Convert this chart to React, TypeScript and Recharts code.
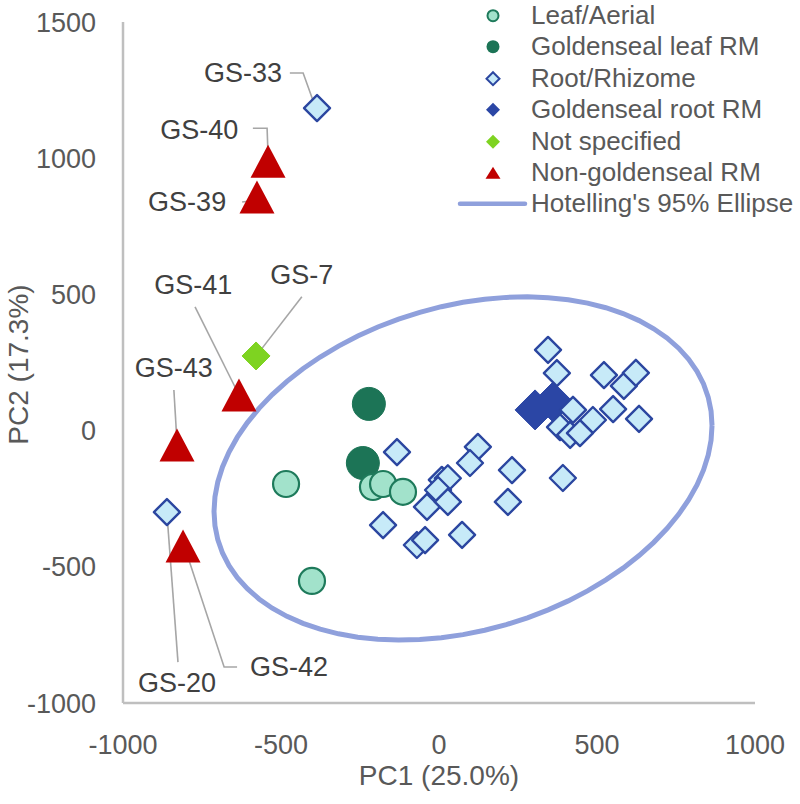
import React from 'react';
import { ScatterChart, Scatter, XAxis, YAxis, Legend } from 'recharts';

const FONT = '"Liberation Sans", Arial, sans-serif';

const xTicks = [-1000, -500, 0, 500, 1000];
const yTicks = [-1000, -500, 0, 500, 1000, 1500];

const leafAerial = [
  { x: -484, y: -196 },
  { x: -402, y: -552 },
  { x: -209, y: -207 },
  { x: -177, y: -196 },
  { x: -114, y: -225 },
];

const goldensealLeafRM = [
  { x: -222, y: 98 },
  { x: -241, y: -119 },
];

const rootRhizome = [
  { x: -386, y: 1184 },
  { x: -861, y: -299 },
  { x: -133, y: -79 },
  { x: 123, y: -60 },
  { x: 98, y: -119 },
  { x: 9, y: -181 },
  { x: 28, y: -175 },
  { x: -3, y: -218 },
  { x: -38, y: -280 },
  { x: 28, y: -262 },
  { x: -70, y: -420 },
  { x: -44, y: -402 },
  { x: 73, y: -383 },
  { x: -177, y: -347 },
  { x: 231, y: -145 },
  { x: 218, y: -262 },
  { x: 345, y: 296 },
  { x: 373, y: 211 },
  { x: 522, y: 204 },
  { x: 585, y: 164 },
  { x: 623, y: 212 },
  { x: 551, y: 79 },
  { x: 633, y: 43 },
  { x: 424, y: 76 },
  { x: 487, y: 39 },
  { x: 383, y: 13 },
  { x: 415, y: -16 },
  { x: 446, y: -9 },
  { x: 392, y: -174 },
];

const goldensealRootRM = [
  { x: 304, y: 76 },
  { x: 361, y: 105 },
];

const notSpecified = [{ x: -579, y: 274 }];

const nonGoldensealRM = [
  { x: -541, y: 989 },
  { x: -576, y: 858 },
  { x: -633, y: 131 },
  { x: -829, y: -53 },
  { x: -810, y: -424 },
];

// Sample labels (data coordinates of label centres)
const sampleLabels = [
  { name: 'GS-33', x: -620, y: 1313 },
  { name: 'GS-40', x: -759, y: 1103 },
  { name: 'GS-39', x: -797, y: 839 },
  { name: 'GS-7', x: -434, y: 571 },
  { name: 'GS-41', x: -778, y: 534 },
  { name: 'GS-43', x: -839, y: 230 },
  { name: 'GS-20', x: -829, y: -927 },
  { name: 'GS-42', x: -475, y: -868 },
];

// Leader lines (data coordinates)
const leaderLines = [
  { name: 'GS-33', pts: [{ x: -472, y: 1313 }, { x: -430, y: 1313 }, { x: -399, y: 1213 }] },
  { name: 'GS-40', pts: [{ x: -589, y: 1110 }, { x: -544, y: 1110 }, { x: -541, y: 1011 }] },
  { name: 'GS-39', pts: [{ x: -623, y: 839 }, { x: -576, y: 846 }] },
  { name: 'GS-7', pts: [{ x: -434, y: 491 }, { x: -576, y: 278 }] },
  { name: 'GS-41', pts: [{ x: -772, y: 454 }, { x: -636, y: 138 }] },
  { name: 'GS-43', pts: [{ x: -839, y: 149 }, { x: -829, y: -45 }] },
  { name: 'GS-20', pts: [{ x: -826, y: -850 }, { x: -861, y: -303 }] },
  { name: 'GS-42', pts: [{ x: -639, y: -868 }, { x: -680, y: -868 }, { x: -804, y: -431 }] },
];

// Hotelling's 95% ellipse parameters (data units)
const ellipseCenter = { x: 76, y: -139 };
const ellipseHalfWidth = 788;
const ellipseHalfHeight = 630;
const ellipsePhaseDeg = 14.5;
const ellipsePoints = Array.from({ length: 73 }, (_, i) => {
  const t = (i * 5 * Math.PI) / 180;
  const p = (ellipsePhaseDeg * Math.PI) / 180;
  return {
    x: ellipseCenter.x + ellipseHalfWidth * Math.cos(t),
    y: ellipseCenter.y + ellipseHalfHeight * Math.sin(t + p),
  };
});

const COLORS = {
  leafFill: '#A2E2CB',
  leafStroke: '#1E7A5B',
  leafRM: '#1C7456',
  rootFill: '#C7EAF8',
  rootStroke: '#2B46A0',
  rootRM: '#2B46A5',
  notSpec: '#7ED321',
  nonGS: '#C00000',
  ellipse: '#8FA0DC',
  leader: '#A6A6A6',
  text: '#595959',
  label: '#404040',
  axis: '#BFBFBF',
};

const circleShape = (r: number, fill: string, stroke: string, sw: number) => (props: any) => (
  <circle cx={props.cx} cy={props.cy} r={r} fill={fill} stroke={stroke} strokeWidth={sw} />
);

const diamondShape = (h: number, fill: string, stroke: string, sw: number) => (props: any) => {
  const { cx, cy } = props;
  return (
    <polygon
      points={`${cx},${cy - h} ${cx + h},${cy} ${cx},${cy + h} ${cx - h},${cy}`}
      fill={fill}
      stroke={stroke}
      strokeWidth={sw}
      strokeLinejoin="round"
    />
  );
};

const triangleShape = (w: number, h: number, fill: string) => (props: any) => {
  const { cx, cy } = props;
  return (
    <polygon
      points={`${cx},${cy - h / 2} ${cx + w / 2},${cy + h / 2} ${cx - w / 2},${cy + h / 2}`}
      fill={fill}
    />
  );
};

const emptyShape = () => <g />;

const textShape = (props: any) => (
  <text
    x={props.cx}
    y={props.cy}
    textAnchor="middle"
    dominantBaseline="central"
    fontSize={27}
    fill={COLORS.label}
    fontFamily={FONT}
  >
    {props.payload?.name}
  </text>
);

const legendItems = [
  { name: 'Leaf/Aerial', kind: 'leaf' },
  { name: 'Goldenseal leaf RM', kind: 'leafRM' },
  { name: 'Root/Rhizome', kind: 'root' },
  { name: 'Goldenseal root RM', kind: 'rootRM' },
  { name: 'Not specified', kind: 'notSpec' },
  { name: 'Non-goldenseal RM', kind: 'nonGS' },
  { name: "Hotelling's 95% Ellipse", kind: 'ellipse' },
];

const ROW_H = 31.4;

const legendMarker = (kind: string) => {
  const cx = 38;
  const cy = ROW_H / 2;
  switch (kind) {
    case 'leaf':
      return <circle cx={cx} cy={cy} r={5.5} fill={COLORS.leafFill} stroke={COLORS.leafStroke} strokeWidth={2} />;
    case 'leafRM':
      return <circle cx={cx} cy={cy} r={6.5} fill={COLORS.leafRM} />;
    case 'root':
      return (
        <polygon
          points={`${cx},${cy - 6.5} ${cx + 6.5},${cy} ${cx},${cy + 6.5} ${cx - 6.5},${cy}`}
          fill={COLORS.rootFill}
          stroke={COLORS.rootStroke}
          strokeWidth={2}
        />
      );
    case 'rootRM':
      return (
        <polygon
          points={`${cx},${cy - 7} ${cx + 7},${cy} ${cx},${cy + 7} ${cx - 7},${cy}`}
          fill={COLORS.rootRM}
        />
      );
    case 'notSpec':
      return (
        <polygon
          points={`${cx},${cy - 7} ${cx + 7},${cy} ${cx},${cy + 7} ${cx - 7},${cy}`}
          fill={COLORS.notSpec}
        />
      );
    case 'nonGS':
      return <polygon points={`${cx},${cy - 6} ${cx + 7.5},${cy + 6} ${cx - 7.5},${cy + 6}`} fill={COLORS.nonGS} />;
    default:
      return <line x1={5} y1={cy} x2={70} y2={cy} stroke={COLORS.ellipse} strokeWidth={4.5} strokeLinecap="round" />;
  }
};

const renderLegend = () => (
  <div style={{ fontFamily: FONT, fontSize: 26, color: COLORS.text }}>
    {legendItems.map((item) => (
      <div key={item.name} style={{ display: 'flex', alignItems: 'center', height: ROW_H, whiteSpace: 'nowrap' }}>
        <svg width={76} height={ROW_H} style={{ flex: 'none' }}>
          {legendMarker(item.kind)}
        </svg>
        <span style={{ lineHeight: `${ROW_H}px` }}>{item.name}</span>
      </div>
    ))}
  </div>
);

const yTitle = (props: any) => {
  const vb = props.viewBox || { y: 22, height: 681 };
  const cy = vb.y + vb.height / 2 + 2;
  return (
    <text
      x={18}
      y={cy}
      transform={`rotate(-90, 18, ${cy})`}
      textAnchor="middle"
      dominantBaseline="central"
      fontSize={28}
      fill={COLORS.text}
      fontFamily={FONT}
    >
      PC2 (17.3%)
    </text>
  );
};

export default function App() {
  return (
    <div style={{ position: 'absolute', left: 0, top: 0, fontFamily: FONT, background: '#fff' }}>
      <ScatterChart width={800} height={804} margin={{ top: 22, right: 45, bottom: 0, left: 0 }}>
        <XAxis
          type="number"
          dataKey="x"
          domain={[-1000, 1000]}
          ticks={xTicks}
          tickLine={false}
          axisLine={{ stroke: COLORS.axis, strokeWidth: 2.5 }}
          tick={{ fill: COLORS.text, fontSize: 27 }}
          tickMargin={26}
          height={101}
          allowDataOverflow
          label={{ value: 'PC1 (25.0%)', position: 'insideBottom', offset: 19, fill: COLORS.text, fontSize: 28 }}
        />
        <YAxis
          type="number"
          dataKey="y"
          domain={[-1000, 1500]}
          ticks={yTicks}
          tickLine={false}
          axisLine={{ stroke: COLORS.axis, strokeWidth: 2.5 }}
          tick={{ fill: COLORS.text, fontSize: 27 }}
          tickMargin={21}
          width={123}
          allowDataOverflow
          label={{ content: yTitle }}
        />
        <Legend
          layout="vertical"
          align="center"
          verticalAlign="middle"
          wrapperStyle={{ position: 'absolute', top: 0, left: 455, width: 345 }}
          content={renderLegend}
        />
        <Scatter
          name="Hotelling's 95% Ellipse"
          data={ellipsePoints}
          line={{ stroke: COLORS.ellipse, strokeWidth: 5 }}
          shape={emptyShape}
          isAnimationActive={false}
        />
        {leaderLines.map((l) => (
          <Scatter
            key={l.name}
            name={`${l.name} leader`}
            data={l.pts}
            line={{ stroke: COLORS.leader, strokeWidth: 1.6 }}
            shape={emptyShape}
            isAnimationActive={false}
          />
        ))}
        <Scatter
          name="Goldenseal leaf RM"
          data={goldensealLeafRM}
          shape={circleShape(16.5, COLORS.leafRM, COLORS.leafRM, 1)}
          isAnimationActive={false}
        />
        <Scatter
          name="Goldenseal root RM"
          data={goldensealRootRM}
          shape={diamondShape(20, COLORS.rootRM, COLORS.rootRM, 1)}
          isAnimationActive={false}
        />
        <Scatter
          name="Leaf/Aerial"
          data={leafAerial}
          shape={circleShape(13, COLORS.leafFill, COLORS.leafStroke, 2.2)}
          isAnimationActive={false}
        />
        <Scatter
          name="Root/Rhizome"
          data={rootRhizome}
          shape={diamondShape(13, COLORS.rootFill, COLORS.rootStroke, 2.4)}
          isAnimationActive={false}
        />
        <Scatter
          name="Not specified"
          data={notSpecified}
          shape={diamondShape(14, COLORS.notSpec, COLORS.notSpec, 1)}
          isAnimationActive={false}
        />
        <Scatter
          name="Non-goldenseal RM"
          data={nonGoldensealRM}
          shape={triangleShape(35, 33, COLORS.nonGS)}
          isAnimationActive={false}
        />
        <Scatter name="Sample labels" data={sampleLabels} shape={textShape} isAnimationActive={false} />
      </ScatterChart>
    </div>
  );
}
